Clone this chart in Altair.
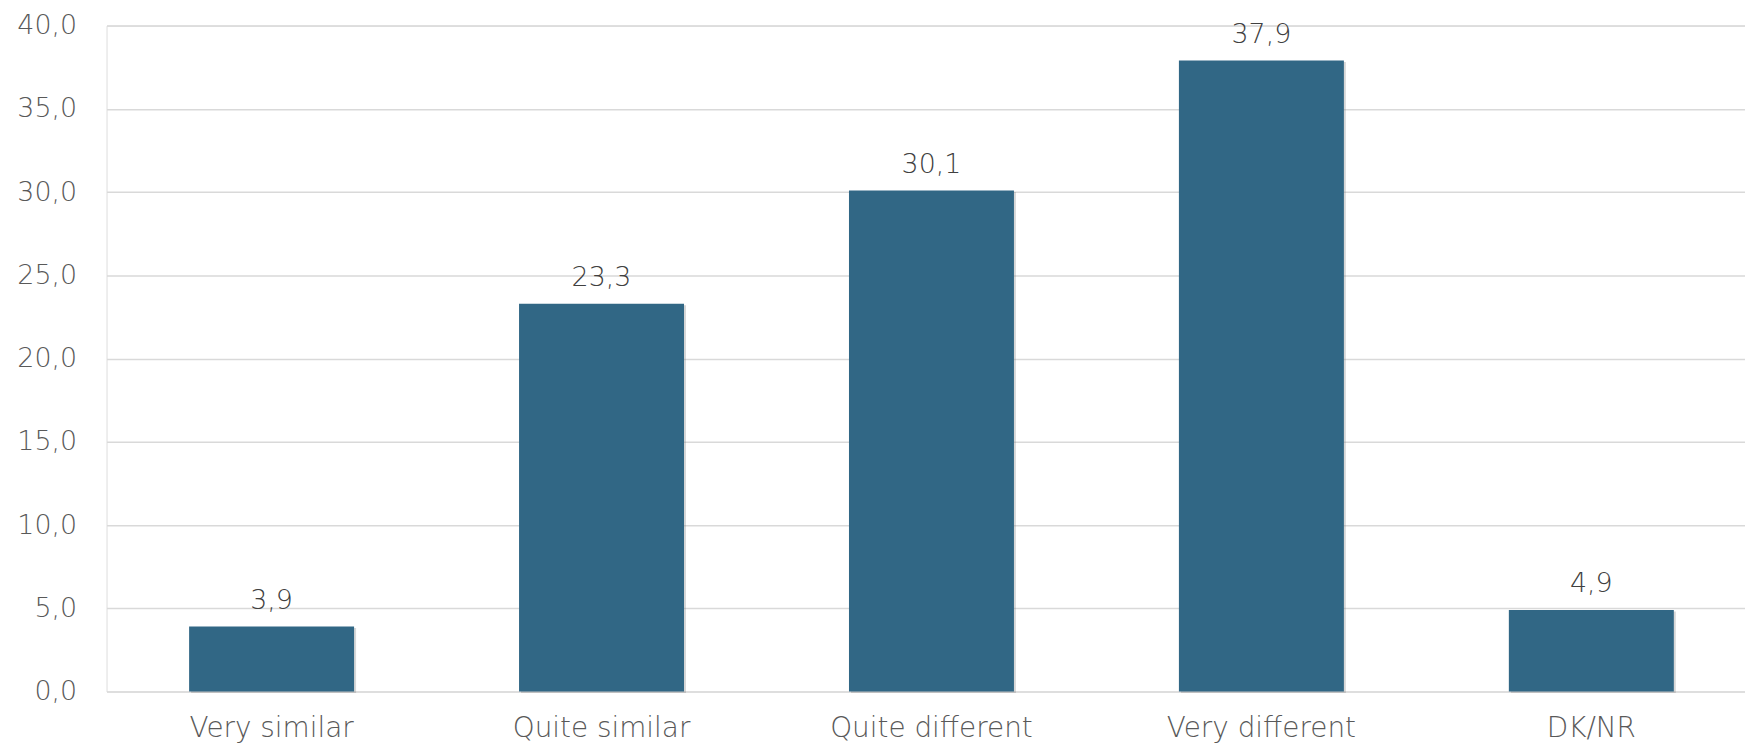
import altair as alt
import pandas as pd

categories = ["Very similar", "Quite similar", "Quite different", "Very different", "DK/NR"]
values = [3.9, 23.3, 30.1, 37.9, 4.9]
y_ticks = [0, 5, 10, 15, 20, 25, 30, 35, 40]

df = pd.DataFrame({"category": categories, "value": values})

FONT = "DejaVu Sans"

x = alt.X(
    "category:N",
    sort=categories,
    title=None,
    scale=alt.Scale(paddingInner=0.5, paddingOuter=0.233, align=0.537),
    axis=alt.Axis(
        labelAngle=0,
        labelFont=FONT,
        labelFontSize=28,
        labelFontWeight=300,
        labelColor="#595959",
        labelPadding=23,
        labelLimit=0,
        domain=False,
        ticks=False,
        grid=False,
    ),
)
y = alt.Y(
    "value:Q",
    title=None,
    scale=alt.Scale(domain=[0, 40], nice=False),
    axis=alt.Axis(
        values=y_ticks,
        labelExpr="replace(format(datum.value, '.1f'), '.', ',')",
        labelFont=FONT,
        labelFontSize=27,
        labelFontWeight=300,
        labelColor="#595959",
        labelPadding=30,
        domain=False,
        ticks=False,
        gridColor="#d9d9d9",
        gridWidth=1.5,
    ),
)

base = alt.Chart(df)

shadow = base.mark_bar(color="#7a7a7a", opacity=0.3, xOffset=2, yOffset=1.5).encode(x=x, y=y)
bars = base.mark_bar(color="#316785").encode(x=x, y=y)

labels = base.transform_calculate(
    label="replace(format(datum.value, '.1f'), '.', ',')"
).mark_text(
    font=FONT, fontSize=27, fontWeight=300, color="#404040", baseline="alphabetic", dy=-18
).encode(x=x, y=y, text="label:N")

chart = (
    (shadow + bars + labels)
    .properties(
        width=1646,
        height=669,
        padding={"left": 99, "top": 16, "right": 0, "bottom": 51},
        autosize=alt.AutoSizeParams(type="none"),
    )
    .configure_view(stroke=None)
    .configure(background="white")
)

chart.save("out.html", embed_options={"renderer": "svg", "actions": False})
